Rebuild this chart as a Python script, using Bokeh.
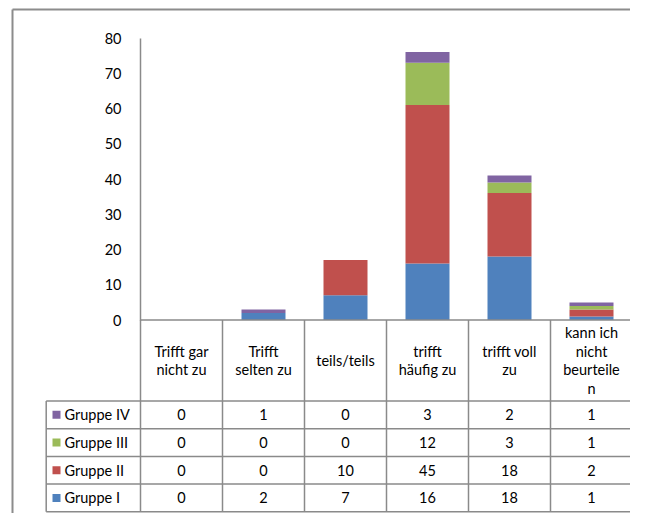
from bokeh.plotting import figure
from bokeh.models import LinearAxis, FixedTicker, Range1d, ColumnDataSource
from bokeh.embed import file_html
from bokeh.resources import INLINE
from bokeh.core.properties import value

# ---------------- data ----------------
categories = ["Trifft gar\nnicht zu", "Trifft\nselten zu", "teils/teils",
              "trifft\nhäufig zu", "trifft voll\nzu", "kann ich\nnicht\nbeurteile\nn"]
group_names = ["Gruppe I", "Gruppe II", "Gruppe III", "Gruppe IV"]
gruppe_1 = [0, 2, 7, 16, 18, 1]
gruppe_2 = [0, 0, 10, 45, 18, 2]
gruppe_3 = [0, 0, 0, 12, 3, 1]
gruppe_4 = [0, 1, 0, 3, 2, 1]
y_ticks = [0, 10, 20, 30, 40, 50, 60, 70, 80]
colors = ["#4F81BD", "#C0504D", "#9BBB59", "#8064A2"]

series = [gruppe_1, gruppe_2, gruppe_3, gruppe_4]

# ---------------- layout (pixel geometry of the picture) ----------------
W, H = 630, 513
PAGE = 0
COL_PX = 82.0
X0_PX = 140.0          # picture x of category axis origin
Y0_PX = 319.5          # picture y of value 0
PX_PER_VAL = 3.525
HEADER_PX = 81.0
ROW_PX = 27.7
ROWHEAD_LEFT_PX = 45.7
FONT = "Lato"
FSIZE = "14.5px"
GRID = "#8a8a8a"


def dx(px):
    return (px - X0_PX) / COL_PX


def dy(py):
    return (Y0_PX - py) / PX_PER_VAL


p = figure(width=W, height=H, output_backend="svg", toolbar_location=None,
           x_range=Range1d(dx(PAGE), dx(PAGE + W)),
           y_range=Range1d(dy(PAGE + H), dy(PAGE)),
           x_axis_location=None, y_axis_location=None,
           min_border=0, min_border_left=0, min_border_right=0,
           min_border_top=0, min_border_bottom=0)
p.outline_line_color = None
p.xgrid.visible = False
p.ygrid.visible = False
p.background_fill_color = "white"
p.border_fill_color = "white"

# outer chart border
p.segment(x0=[dx(12), dx(12)], y0=[dy(9), dy(9)], x1=[dx(700), dx(12)], y1=[dy(9), dy(600)],
          line_color="#8c8c8c", line_width=2)

# stacked bars
ncat = len(categories)
src = ColumnDataSource(dict(x=[i + 0.5 for i in range(ncat)],
                            g1=gruppe_1, g2=gruppe_2, g3=gruppe_3, g4=gruppe_4))
p.vbar_stack(["g1", "g2", "g3", "g4"], x="x", width=44 / COL_PX, source=src,
             fill_color=colors, line_color=None)

# y axis
yaxis = LinearAxis(fixed_location=0, bounds=(0, 80), ticker=FixedTicker(ticks=y_ticks))
yaxis.major_tick_line_color = None
yaxis.minor_tick_line_color = None
yaxis.axis_line_color = GRID
yaxis.axis_line_width = 1.5
yaxis.major_label_text_font = FONT
yaxis.major_label_text_font_size = FSIZE
yaxis.major_label_text_color = "#000000"
yaxis.major_label_standoff = 13
p.add_layout(yaxis, "left")

# ---------------- data table ----------------
header_bottom = Y0_PX + HEADER_PX
row_edges = [header_bottom + k * ROW_PX for k in range(len(series) + 1)]
table_bottom = row_edges[-1]

# horizontal lines
hx0 = [0] + [dx(ROWHEAD_LEFT_PX)] * len(row_edges)
hy = [0] + [dy(r) for r in row_edges]
p.segment(x0=hx0, y0=hy, x1=[ncat + 1] * len(hy), y1=hy, line_color=GRID, line_width=1.5)
# vertical lines
vx = list(range(ncat + 1)) + [dx(ROWHEAD_LEFT_PX)]
vy0 = [0] * (ncat + 1) + [dy(header_bottom)]
p.segment(x0=vx, y0=vy0, x1=vx, y1=[dy(table_bottom)] * len(vx), line_color=GRID, line_width=1.5)

# header labels
p.text(x=[i + 0.5 for i in range(ncat)], y=[dy((Y0_PX + header_bottom) / 2)] * ncat,
       text=categories, text_align="center", text_baseline="middle",
       text_font=value(FONT), text_font_size=FSIZE, text_line_height=1.1, text_color="#000000")

# rows: top row is Gruppe IV
for r, gi in enumerate(reversed(range(len(series)))):
    cy = dy((row_edges[r] + row_edges[r + 1]) / 2)
    vals = series[gi]
    p.text(x=[i + 0.5 for i in range(ncat)], y=[cy] * ncat, text=[str(v) for v in vals],
           text_align="center", text_baseline="middle",
           text_font=value(FONT), text_font_size=FSIZE, text_color="#000000")
    p.scatter(x=[dx(56)], y=[cy], marker="square", size=8, fill_color=colors[gi], line_color=None)
    p.text(x=[dx(64)], y=[cy], text=[group_names[gi]], text_align="left", text_baseline="middle",
           text_font=value(FONT), text_font_size=FSIZE, text_color="#000000")

open("out.html", "w").write(file_html(p, INLINE))
